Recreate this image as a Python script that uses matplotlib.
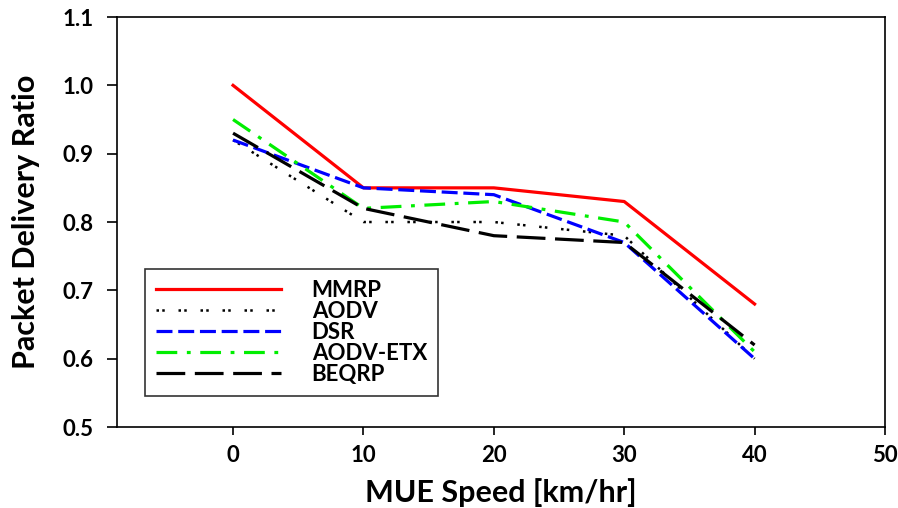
import matplotlib
matplotlib.use("Agg")
import matplotlib.pyplot as plt

speeds = [0, 10, 20, 30, 40]
mmrp = [1.00, 0.85, 0.85, 0.83, 0.68]
aodv = [0.92, 0.80, 0.80, 0.78, 0.60]
dsr = [0.92, 0.85, 0.84, 0.77, 0.60]
aodv_etx = [0.95, 0.82, 0.83, 0.80, 0.61]
beqrp = [0.93, 0.82, 0.78, 0.77, 0.62]

xticks = [0, 10, 20, 30, 40, 50]
yticks = [0.5, 0.6, 0.7, 0.8, 0.9, 1.0, 1.1]

plt.rcParams['font.family'] = ['Lato', 'DejaVu Sans']
plt.rcParams['font.weight'] = 'bold'

fig = plt.figure(figsize=(8.98, 5.08), dpi=100)
ax = fig.add_axes([0.1303, 0.1594, 0.8552, 0.8071])

ax.plot(speeds, mmrp, color='#ff0000', lw=2.3, label='MMRP')
ax.plot(speeds, aodv, color='black', lw=1.8, dashes=(1, 1.3, 1, 5.5), label='AODV')
ax.plot(speeds, dsr, color='#0000ff', lw=2.3, dashes=(5, 1.8), label='DSR')
ax.plot(speeds, aodv_etx, color='#00ee00', lw=2.3, dashes=(6.5, 3, 1.2, 3), label='AODV-ETX')
ax.plot(speeds, beqrp, color='black', lw=2.3, dashes=(9, 3), label='BEQRP')

ax.set_xlim(-8.9, 50)
ax.set_ylim(0.5, 1.1)
ax.set_xticks(xticks)
ax.set_yticks(yticks)
ax.set_yticklabels([f"{v:.1f}" for v in yticks])
ax.tick_params(axis='x', direction='out', length=6, width=1.2, labelsize=16, pad=7)
ax.tick_params(axis='y', direction='out', length=7, width=1.2, labelsize=16, pad=10)
for lab in ax.get_xticklabels() + ax.get_yticklabels():
    lab.set_fontweight('bold')
for s in ax.spines.values():
    s.set_linewidth(1.2)

ax.set_xlabel('MUE Speed [km/hr]', fontsize=22, fontweight='bold', labelpad=9)
ax.set_ylabel('Packet Delivery Ratio', fontsize=22, fontweight='bold', labelpad=16)

leg = ax.legend(loc='lower left', bbox_to_anchor=(0.0365, 0.0756), fontsize=16,
                handlelength=5.6, handletextpad=1.4, labelspacing=0.0,
                frameon=True, fancybox=False, borderpad=0.5, borderaxespad=0)
leg.get_frame().set_edgecolor('black')
leg.get_frame().set_linewidth(1.2)
for t in leg.get_texts():
    t.set_fontweight('bold')

fig.savefig('out.png', dpi=100)
